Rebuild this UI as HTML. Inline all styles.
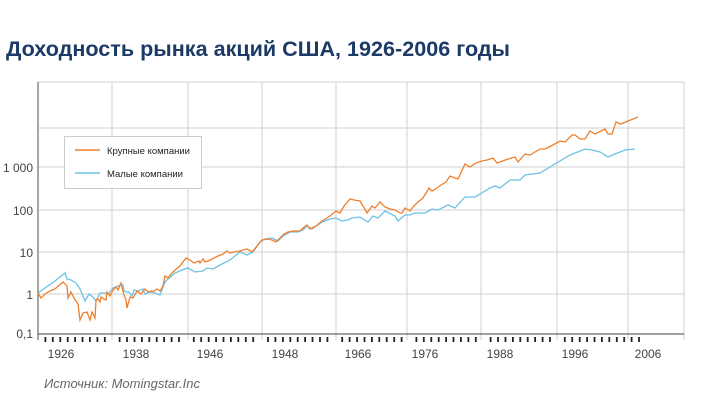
<!DOCTYPE html>
<html><head><meta charset="utf-8"><style>
body{margin:0;background:#fff;width:721px;height:405px;overflow:hidden;font-family:"Liberation Sans",sans-serif}
</style></head><body>
<svg width="721" height="405" xmlns="http://www.w3.org/2000/svg" font-family="Liberation Sans, sans-serif">
<text x="6" y="56" font-size="21.5" font-weight="bold" fill="#1b3a66" textLength="504" lengthAdjust="spacingAndGlyphs">Доходность рынка акций США, 1926-2006 годы</text>
<g stroke="#d9d9d9" stroke-width="1.2" fill="none">
<line x1="38" y1="82" x2="684" y2="82"/>
<line x1="38" y1="128" x2="684" y2="128"/>
<line x1="38" y1="167" x2="684" y2="167"/>
<line x1="38" y1="210" x2="684" y2="210"/>
<line x1="38" y1="252" x2="684" y2="252"/>
<line x1="38" y1="294" x2="684" y2="294"/>
<line x1="112" y1="82" x2="112" y2="340"/><line x1="188" y1="82" x2="188" y2="340"/>
<line x1="262" y1="82" x2="262" y2="340"/><line x1="336" y1="82" x2="336" y2="340"/>
<line x1="407" y1="82" x2="407" y2="340"/><line x1="481" y1="82" x2="481" y2="340"/>
<line x1="557" y1="82" x2="557" y2="340"/><line x1="628" y1="82" x2="628" y2="340"/>
<line x1="684" y1="82" x2="684" y2="340"/>
</g>
<line x1="38" y1="82" x2="38" y2="340" stroke="#888" stroke-width="1.5"/>
<line x1="38" y1="334" x2="684" y2="334" stroke="#666" stroke-width="1.2"/>
<g id="ticks" stroke="#222" stroke-width="1.8"></g>
<g font-size="12" fill="#444" text-anchor="end">
<text x="33" y="172">1 000</text><text x="33" y="215">100</text><text x="33" y="257">10</text><text x="33" y="299">1</text><text x="33" y="338">0,1</text>
</g>
<g font-size="12" fill="#444" text-anchor="middle">
<text x="61" y="358">1926</text><text x="136" y="358">1938</text><text x="210" y="358">1946</text><text x="285" y="358">1948</text><text x="358" y="358">1966</text><text x="425" y="358">1976</text><text x="500" y="358">1988</text><text x="575" y="358">1996</text><text x="648" y="358">2006</text>
</g>
<polyline fill="none" stroke="#6ec1e4" stroke-width="1.3" points="38,293 45,288 55,281 60,277 65,273 67,279 71,280 76,283 80,289 85,301 89,294 93,297 96,301 100,293 105,293 108,294 113,288 118,286 121,285 123,285 124,291 127,292 129,292 132,296 134,290 138,291 143,289 145,294 150,292 155,293 160,295 165,282 168,279 175,273 182,270 188,268 195,272 203,271 207,268 213,269 220,265 230,260 240,252 247,255 253,252 260,242 265,239 272,238 278,241 283,236 290,232 298,232 303,230 307,226 312,229 322,222 330,219 336,218 342,221 348,220 352,218 360,217 368,222 373,216 378,218 385,211 395,216 398,221 405,215 410,215 415,213 425,213 432,209 438,210 448,205 455,208 465,197 475,197 490,188 495,186 500,188 510,180 520,180 525,175 540,173 550,167 570,155 585,149 592,150 600,152 608,157 615,154 625,150 635,149"/>
<polyline fill="none" stroke="#f07f2b" stroke-width="1.3" points="38,293 41,298 45,294 50,291 55,289 63,282 67,286 68,298 71,292 74,298 78,304 80,320 83,313 87,312 90,320 92,312 95,318 96,300 98,299 100,302 101,297 104,299 106,300 107,292 110,296 113,290 115,288 116,287 118,290 121,283 124,295 126,300 127,308 130,297 133,298 137,291 141,294 145,289 148,292 151,291 154,291 157,289 160,291 163,286 165,276 168,278 171,274 175,270 180,266 186,258 190,260 194,263 199,261 200,263 203,259 205,262 208,261 212,259 218,256 223,254 227,251 230,253 234,252 240,251 243,250 247,249 252,252 257,246 262,240 268,239 272,240 276,242 280,238 284,234 288,232 293,231 300,231 303,228 307,225 310,229 316,226 322,221 330,216 336,211 340,213 344,206 350,199 354,200 360,201 366,211 367,213 372,206 375,208 380,202 385,207 390,209 395,210 400,213 402,213 405,208 410,211 413,207 418,202 423,198 429,188 432,191 437,188 441,185 446,182 450,176 455,178 458,179 465,164 470,167 476,163 482,161 487,160 493,158 497,163 500,162 508,159 515,157 518,162 525,154 530,155 535,152 540,149 545,149 553,145 560,141 565,142 572,135 575,135 580,139 585,139 590,131 595,134 605,129 608,134 612,134 616,122 621,124 628,121 638,117"/>
<rect x="64.5" y="136.5" width="137" height="52" fill="#fff" stroke="#ccc"/>
<line x1="75" y1="150" x2="100" y2="150" stroke="#f07f2b" stroke-width="1.5"/>
<line x1="75" y1="173" x2="100" y2="173" stroke="#6ec1e4" stroke-width="1.5"/>
<text x="107" y="154" font-size="9.5" fill="#222">Крупные компании</text>
<text x="107" y="177" font-size="9.5" fill="#222">Малые компании</text>
<text x="44" y="388" font-size="13" font-style="italic" fill="#666">Источник: Momingstar.Inc</text>
</svg>
<script>
var g=document.getElementById('ticks'),s='';
var grid=[38,112,188,262,336,407,481,557,628];
for(var i=1;i<=81;i++){var x=38+i*7.42;var near=grid.some(function(v){return Math.abs(v-x)<3.5});if(near)continue;s+='<line x1="'+x.toFixed(1)+'" y1="337" x2="'+x.toFixed(1)+'" y2="342"/>';}
g.innerHTML=s;
</script>
</body></html>
